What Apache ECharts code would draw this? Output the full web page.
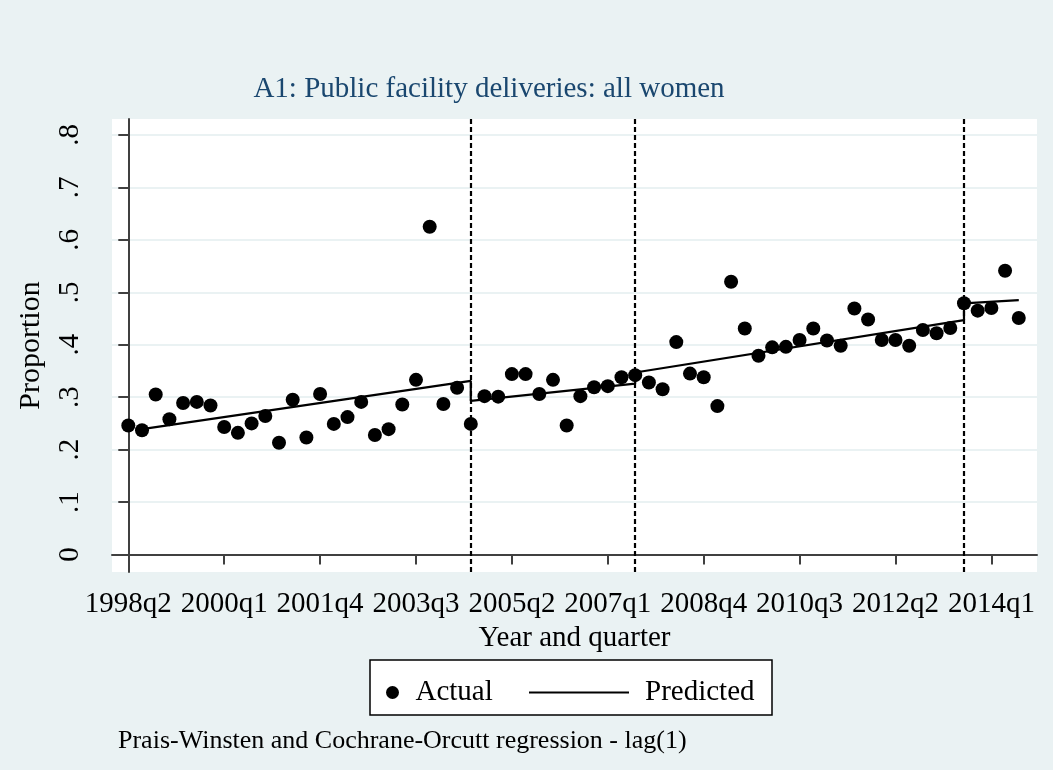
<!DOCTYPE html>
<html>
<head>
<meta charset="utf-8">
<script src="https://cdn.jsdelivr.net/npm/echarts@6/dist/echarts.min.js"></script>
<style>
  html, body { margin: 0; padding: 0; background: #eaf2f3; }
  #chart { width: 1053px; height: 770px; }
</style>
</head>
<body>
<div id="chart"></div>
<script>
(function() {
  'use strict';

  // quarters run from 1998q2 to 2014q3
  var firstQuarter = '1998q2';
  var actual = [
    0.246, 0.237, 0.305, 0.258, 0.289, 0.291, 0.284, 0.243, 0.232, 0.250,
    0.264, 0.213, 0.295, 0.223, 0.306, 0.249, 0.262, 0.291, 0.228, 0.239,
    0.286, 0.333, 0.625, 0.287, 0.318, 0.249, 0.302, 0.301, 0.344, 0.344,
    0.306, 0.333, 0.246, 0.302, 0.319, 0.321, 0.338, 0.342, 0.328, 0.315,
    0.405, 0.345, 0.338, 0.283, 0.520, 0.431, 0.379, 0.395, 0.396, 0.409,
    0.431, 0.408, 0.398, 0.469, 0.448, 0.409, 0.409, 0.398, 0.428, 0.422,
    0.432, 0.479, 0.465, 0.470, 0.541, 0.451
  ];

  // predicted (Prais-Winsten) segments, straight within each period
  var predStart = ['1998q3', '2004q3', '2007q3', '2013q3'];
  var predEnd   = ['2004q3', '2007q3', '2013q3', '2014q3'];
  var predFrom  = [0.239, 0.293, 0.347, 0.479];
  var predTo    = [0.331, 0.326, 0.447, 0.485];

  var breakQuarters = ['2004q3', '2007q3', '2013q3'];
  var tickLabels = ['1998q2', '2000q1', '2001q4', '2003q3', '2005q2',
                    '2007q1', '2008q4', '2010q3', '2012q2', '2014q1'];
  var yTicks = [0, 0.1, 0.2, 0.3, 0.4, 0.5, 0.6, 0.7, 0.8];

  var font = 'Liberation Serif';

  function qNum(label) { // running quarter number
    return (+label.slice(0, 4)) * 4 + (+label.slice(5)) - 1;
  }
  function qIndex(label) {
    return qNum(label) - qNum(firstQuarter);
  }
  function qLabel(i) {
    var n = qNum(firstQuarter) + i;
    return Math.floor(n / 4) + 'q' + (n % 4 + 1);
  }

  var scatterData = actual.map(function(v, i) { return [i, v]; });
  var predData = [];
  for (var s = 0; s < predStart.length; s++) {
    predData.push([qIndex(predStart[s]), predFrom[s]]);
    predData.push([qIndex(predEnd[s]), predTo[s]]);
  }
  var xTicks = tickLabels.map(qIndex);

  var myChart = echarts.init(document.getElementById('chart'));

  var option = {
    backgroundColor: '#eaf2f3',
    animation: false,
    textStyle: { fontFamily: font },
    title: {
      text: 'A1: Public facility deliveries: all women',
      left: 484,
      textAlign: 'center',
      top: 70,
      textStyle: { fontFamily: font, fontSize: 29, fontWeight: 'normal', color: '#1a476f' }
    },
    grid: {
      left: 112, right: 16, top: 119, bottom: 198,
      show: true, backgroundColor: '#ffffff', borderWidth: 0
    },
    legend: [{
      data: [{ name: 'Actual', icon: 'circle' }],
      left: 381, top: 673,
      itemWidth: 36, itemHeight: 13,
      textStyle: { fontFamily: font, fontSize: 29, color: '#000' }
    }, {
      data: [{ name: 'Predicted', icon: 'rect' }],
      left: 524, top: 673,
      itemWidth: 100, itemHeight: 2,
      textStyle: { fontFamily: font, fontSize: 29, color: '#000', padding: [0, 0, 0, 11] }
    }],
    graphic: [{
      type: 'rect',
      shape: { x: 370, y: 660, width: 402, height: 55 },
      style: { fill: '#ffffff', stroke: '#000', lineWidth: 1.5 },
      z: -1
    }, {
      type: 'text',
      left: 118, top: 728,
      style: {
        text: 'Prais-Winsten and Cochrane-Orcutt regression - lag(1)',
        font: '26px "Liberation Serif"', fill: '#000'
      }
    }],
    xAxis: {
      type: 'value',
      min: -1.19, max: 66.33,
      name: 'Year and quarter',
      nameLocation: 'middle',
      nameGap: 52,
      nameTextStyle: { fontFamily: font, fontSize: 29, color: '#000' },
      axisLine: { lineStyle: { color: '#404040', width: 2 } },
      axisTick: { customValues: xTicks, length: 10, lineStyle: { color: '#404040', width: 2 } },
      axisLabel: {
        customValues: xTicks, margin: 18,
        fontFamily: font, fontSize: 29, color: '#000',
        formatter: function(v) { return qLabel(Math.round(v)); }
      },
      splitLine: { show: false }
    },
    yAxis: {
      type: 'value',
      min: -0.0334, max: 0.8305,
      name: 'Proportion',
      nameLocation: 'middle',
      nameGap: 66,
      nameTextStyle: { fontFamily: font, fontSize: 30, color: '#000' },
      axisLine: { show: true, lineStyle: { color: '#404040', width: 2 } },
      axisTick: { show: true, customValues: yTicks, length: 10, lineStyle: { color: '#404040', width: 2 } },
      axisLabel: {
        customValues: yTicks, rotate: 90, margin: 27,
        fontFamily: font, fontSize: 29, color: '#000',
        formatter: function(v) { return v === 0 ? '0' : String(Math.round(v * 10) / 10).replace(/^0/, ''); }
      },
      splitLine: { show: true, lineStyle: { color: '#eaf2f3', width: 2 } }
    },
    series: [{
      name: 'Actual',
      type: 'scatter',
      symbol: 'circle',
      symbolSize: 14,
      itemStyle: { color: '#000', opacity: 1 },
      data: scatterData,
      z: 3,
      markLine: {
        silent: true,
        symbol: 'none',
        label: { show: false },
        lineStyle: { color: '#000', width: 2.2, type: [5, 3] },
        data: breakQuarters.map(function(q) { return { xAxis: qIndex(q) }; })
      }
    }, {
      name: 'Predicted',
      type: 'line',
      symbol: 'none',
      lineStyle: { color: '#000', width: 2.2 },
      itemStyle: { color: '#000' },
      data: predData,
      z: 2
    }]
  };

  myChart.setOption(option);
}());
</script>
</body>
</html>
